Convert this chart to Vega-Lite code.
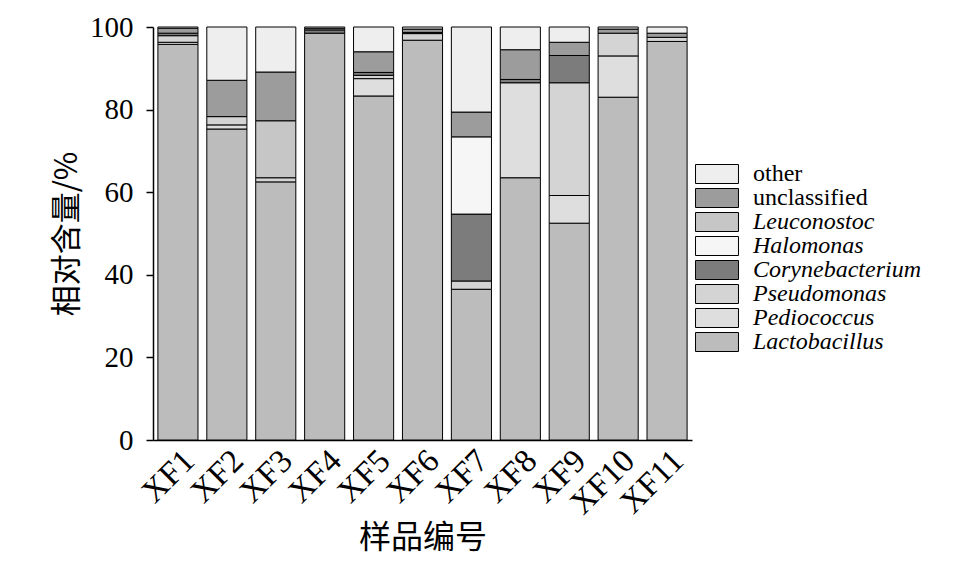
{
  "$schema": "https://vega.github.io/schema/vega-lite/v6.json",
  "autosize": {"type": "none"},
  "padding": {"left": 153, "top": 27, "right": 267, "bottom": 135},
  "width": 539,
  "height": 413,
  "background": "white",
  "config": {
    "view": {"stroke": null},
    "font": "Liberation Serif"
  },
  "data": {
    "values": [
      {"sample": "XF1", "genus": "Lactobacillus", "value": 95.8, "ord": 1},
      {"sample": "XF1", "genus": "Pediococcus", "value": 0.5, "ord": 2},
      {"sample": "XF1", "genus": "Pseudomonas", "value": 1.6, "ord": 3},
      {"sample": "XF1", "genus": "Corynebacterium", "value": 0.6, "ord": 4},
      {"sample": "XF1", "genus": "unclassified", "value": 1.2, "ord": 7},
      {"sample": "XF1", "genus": "other", "value": 0.3, "ord": 8},

      {"sample": "XF2", "genus": "Lactobacillus", "value": 75.3, "ord": 1},
      {"sample": "XF2", "genus": "Pediococcus", "value": 1.0, "ord": 2},
      {"sample": "XF2", "genus": "Pseudomonas", "value": 2.0, "ord": 3},
      {"sample": "XF2", "genus": "unclassified", "value": 8.8, "ord": 7},
      {"sample": "XF2", "genus": "other", "value": 12.9, "ord": 8},

      {"sample": "XF3", "genus": "Lactobacillus", "value": 62.5, "ord": 1},
      {"sample": "XF3", "genus": "Pseudomonas", "value": 1.0, "ord": 3},
      {"sample": "XF3", "genus": "Leuconostoc", "value": 13.8, "ord": 6},
      {"sample": "XF3", "genus": "unclassified", "value": 11.8, "ord": 7},
      {"sample": "XF3", "genus": "other", "value": 10.9, "ord": 8},

      {"sample": "XF4", "genus": "Lactobacillus", "value": 98.5, "ord": 1},
      {"sample": "XF4", "genus": "Corynebacterium", "value": 0.8, "ord": 4},
      {"sample": "XF4", "genus": "unclassified", "value": 0.4, "ord": 7},
      {"sample": "XF4", "genus": "other", "value": 0.3, "ord": 8},

      {"sample": "XF5", "genus": "Lactobacillus", "value": 83.3, "ord": 1},
      {"sample": "XF5", "genus": "Pediococcus", "value": 4.2, "ord": 2},
      {"sample": "XF5", "genus": "Pseudomonas", "value": 0.8, "ord": 3},
      {"sample": "XF5", "genus": "Corynebacterium", "value": 0.7, "ord": 4},
      {"sample": "XF5", "genus": "unclassified", "value": 5.0, "ord": 7},
      {"sample": "XF5", "genus": "other", "value": 6.0, "ord": 8},

      {"sample": "XF6", "genus": "Lactobacillus", "value": 96.8, "ord": 1},
      {"sample": "XF6", "genus": "Pseudomonas", "value": 1.6, "ord": 3},
      {"sample": "XF6", "genus": "Corynebacterium", "value": 0.3, "ord": 4},
      {"sample": "XF6", "genus": "unclassified", "value": 0.8, "ord": 7},
      {"sample": "XF6", "genus": "other", "value": 0.5, "ord": 8},

      {"sample": "XF7", "genus": "Lactobacillus", "value": 36.5, "ord": 1},
      {"sample": "XF7", "genus": "Pseudomonas", "value": 2.0, "ord": 3},
      {"sample": "XF7", "genus": "Corynebacterium", "value": 16.2, "ord": 4},
      {"sample": "XF7", "genus": "Halomonas", "value": 18.7, "ord": 5},
      {"sample": "XF7", "genus": "unclassified", "value": 6.0, "ord": 7},
      {"sample": "XF7", "genus": "other", "value": 20.6, "ord": 8},

      {"sample": "XF8", "genus": "Lactobacillus", "value": 63.5, "ord": 1},
      {"sample": "XF8", "genus": "Pediococcus", "value": 23.0, "ord": 2},
      {"sample": "XF8", "genus": "Corynebacterium", "value": 0.8, "ord": 4},
      {"sample": "XF8", "genus": "unclassified", "value": 7.2, "ord": 7},
      {"sample": "XF8", "genus": "other", "value": 5.5, "ord": 8},

      {"sample": "XF9", "genus": "Lactobacillus", "value": 52.5, "ord": 1},
      {"sample": "XF9", "genus": "Pediococcus", "value": 6.7, "ord": 2},
      {"sample": "XF9", "genus": "Pseudomonas", "value": 27.3, "ord": 3},
      {"sample": "XF9", "genus": "Corynebacterium", "value": 6.6, "ord": 4},
      {"sample": "XF9", "genus": "unclassified", "value": 3.2, "ord": 7},
      {"sample": "XF9", "genus": "other", "value": 3.7, "ord": 8},

      {"sample": "XF10", "genus": "Lactobacillus", "value": 83.0, "ord": 1},
      {"sample": "XF10", "genus": "Pediococcus", "value": 10.0, "ord": 2},
      {"sample": "XF10", "genus": "Pseudomonas", "value": 5.5, "ord": 3},
      {"sample": "XF10", "genus": "unclassified", "value": 1.0, "ord": 7},
      {"sample": "XF10", "genus": "other", "value": 0.5, "ord": 8},

      {"sample": "XF11", "genus": "Lactobacillus", "value": 96.5, "ord": 1},
      {"sample": "XF11", "genus": "Pseudomonas", "value": 1.0, "ord": 3},
      {"sample": "XF11", "genus": "unclassified", "value": 1.0, "ord": 7},
      {"sample": "XF11", "genus": "other", "value": 1.5, "ord": 8}
    ]
  },
  "mark": {"type": "bar", "stroke": "black", "strokeWidth": 1},
  "encoding": {
    "x": {
      "field": "sample",
      "type": "nominal",
      "sort": ["XF1","XF2","XF3","XF4","XF5","XF6","XF7","XF8","XF9","XF10","XF11"],
      "scale": {"paddingInner": 0.18, "paddingOuter": 0.1},
      "axis": {
        "title": "样品编号",
        "titleFont": "Noto Sans CJK SC",
        "titleFontSize": 32,
        "titleFontWeight": "normal",
        "titleColor": "black",
        "titlePadding": 2,
        "labelAngle": -45,
        "labelFont": "Liberation Serif",
        "labelFontSize": 33,
        "labelColor": "black",
        "labelPadding": 4,
        "ticks": false,
        "domainColor": "black",
        "domainWidth": 1.5
      }
    },
    "y": {
      "field": "value",
      "type": "quantitative",
      "stack": "zero",
      "scale": {"domain": [0, 100], "nice": false},
      "axis": {
        "title": "相对含量/%",
        "titleFont": "Noto Sans CJK SC",
        "titleFontSize": 31,
        "titleFontWeight": "normal",
        "titleColor": "black",
        "titlePadding": 6,
        "values": [0, 20, 40, 60, 80, 100],
        "grid": false,
        "labelFont": "Liberation Serif",
        "labelFontSize": 29,
        "labelColor": "black",
        "labelPadding": 13,
        "tickSize": 7,
        "tickColor": "black",
        "tickWidth": 1.5,
        "domainColor": "black",
        "domainWidth": 1.5
      }
    },
    "color": {
      "field": "genus",
      "type": "nominal",
      "scale": {
        "domain": ["other", "unclassified", "Leuconostoc", "Halomonas", "Corynebacterium", "Pseudomonas", "Pediococcus", "Lactobacillus"],
        "range": ["#eeeeee", "#9c9c9c", "#c6c6c6", "#f6f6f6", "#7c7c7c", "#d4d4d4", "#dedede", "#bcbcbc"]
      },
      "legend": {
        "title": null,
        "orient": "none",
        "legendX": 552,
        "legendY": 135,
        "symbolType": "M-2.26,-1H2.26V1H-2.26Z",
        "symbolSize": 361,
        "symbolStrokeColor": "black",
        "symbolStrokeWidth": 1,
        "symbolOpacity": 1,
        "labelFont": "Liberation Serif",
        "labelFontSize": 24,
        "labelColor": "black",
        "labelOffset": 24,
        "rowPadding": -3,
        "labelLimit": 300,
        "encode": {
          "labels": {
            "update": {
              "fontStyle": {"signal": "datum.label === 'other' || datum.label === 'unclassified' ? 'normal' : 'italic'"}
            }
          }
        }
      }
    },
    "order": {"field": "ord", "type": "quantitative", "sort": "ascending"}
  }
}
